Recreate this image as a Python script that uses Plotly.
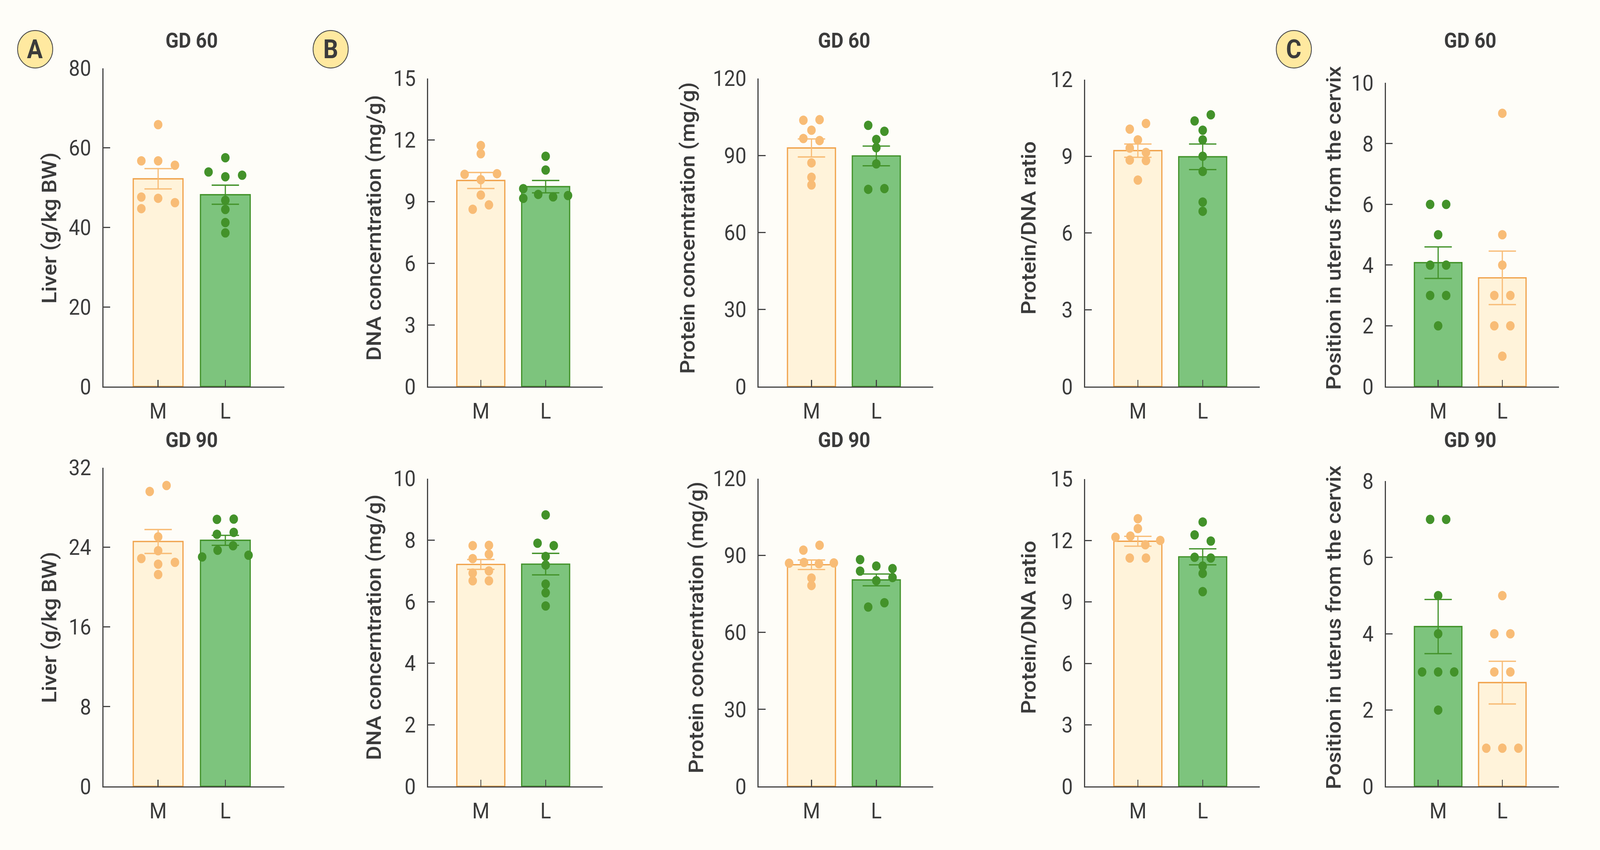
import plotly.graph_objects as go

# ------------------------------------------------------------------ data
GROUPS = ["M", "L"]

# GD 60 row
LIVER60_M = [65.8, 56.7, 56.7, 55.6, 47.6, 47.3, 46.2, 44.7]
LIVER60_L = [57.5, 53.9, 52.7, 53.1, 46.8, 44.5, 41.2, 38.6]
LIVER60_MEAN = [52.2, 48.2]
LIVER60_SEM = [2.55, 2.4]

DNA60_M = [11.73, 11.33, 10.33, 10.07, 10.36, 9.32, 8.63, 8.84]
DNA60_L = [11.21, 10.54, 9.63, 9.35, 9.23, 9.30, 9.16]
DNA60_MEAN = [10.03, 9.73]
DNA60_SEM = [0.39, 0.30]

PROT60_M = [103.7, 103.9, 99.8, 96.6, 95.8, 87.1, 81.5, 78.5]
PROT60_L = [101.7, 99.4, 96.2, 93.0, 86.7, 76.8, 77.1]
PROT60_MEAN = [92.9, 89.8]
PROT60_SEM = [3.5, 3.85]

RATIO60_M = [10.06, 10.28, 9.64, 9.32, 9.15, 8.85, 8.83, 8.07]
RATIO60_L = [10.38, 10.62, 10.02, 9.64, 9.0, 8.41, 7.21, 6.85]
RATIO60_MEAN = [9.22, 8.98]
RATIO60_SEM = [0.26, 0.5]

POS60_M = [6, 6, 5, 4, 4, 3, 3, 2]
POS60_L = [9, 5, 4, 3, 3, 2, 2, 1]
POS60_MEAN = [4.08, 3.58]
POS60_SEM = [0.52, 0.88]

# GD 90 row
LIVER90_M = [29.6, 30.2, 25.05, 23.65, 22.87, 22.3, 22.49, 21.26]
LIVER90_L = [26.8, 26.83, 25.3, 25.5, 23.03, 23.7, 24.15, 23.2]
LIVER90_MEAN = [24.58, 24.7]
LIVER90_SEM = [1.2, 0.5]

DNA90_M = [7.82, 7.83, 7.40, 7.54, 6.93, 7.0, 6.68, 6.68]
DNA90_L = [8.82, 7.90, 7.82, 7.47, 7.19, 6.57, 6.29, 5.86]
DNA90_MEAN = [7.21, 7.22]
DNA90_SEM = [0.16, 0.35]

PROT90_M = [92.1, 94.0, 87.0, 87.3, 86.8, 87.1, 81.2, 78.3]
PROT90_L = [88.4, 85.9, 84.9, 83.9, 80.2, 81.4, 69.9, 71.6]
PROT90_MEAN = [86.4, 80.5]
PROT90_SEM = [1.85, 2.3]

RATIO90_M = [13.06, 12.58, 12.16, 12.21, 11.79, 12.0, 11.14, 11.14]
RATIO90_L = [12.9, 12.27, 11.97, 11.18, 11.14, 10.75, 10.39, 9.5]
RATIO90_MEAN = [11.96, 11.2]
RATIO90_SEM = [0.24, 0.39]

POS90_M = [7, 7, 5, 4, 3, 3, 3, 2]
POS90_L = [5, 4, 4, 3, 3, 1, 1, 1]
POS90_MEAN = [4.19, 2.72]
POS90_SEM = [0.71, 0.56]

Y_TITLES = ["Liver (g/kg BW)", "DNA concerntration (mg/g)",
            "Protein concerntration (mg/g)", "Protein/DNA ratio",
            "Position in uterus from the cervix"]
ROW_TITLES = ["GD 60", "GD 90"]
PANEL_LETTERS = ["A", "B", "C"]

Y_MAX = [[80, 15, 120, 12, 10], [32, 10, 120, 15, 8]]
Y_DTICK = [[20, 3, 30, 3, 2], [8, 2, 30, 3, 2]]

# ------------------------------------------------------------------ style / layout
W, H = 4505, 2177
BG = "#FEFDF8"
AXIS = "#444444"
TEXT = "#3B3B3B"
FONT = "Roboto, 'Noto Sans', sans-serif"

ORANGE = dict(fill="#FFF3DA", line="#F0A24B", dot="#F8BC76")
GREEN = dict(fill="#7DC47D", line="#42922A", dot="#43922A")

COL_LEFT = [291, 1205, 2136, 3055, 3902]
COL_RIGHT = [801, 1697, 2628, 3547, 4389]
ROW_BOTTOM = [988, 2044]
ROW_TOP = [[147, 174, 174, 177, 186], [1202, 1231, 1231, 1232, 1238]]
YTITLE_X = [[139, 1053, 1936, 2897, 3755], [139, 1053, 1960, 2897, 3755]]
YTITLE_Y = [569, 1624]
ROWTITLE_Y = [74, 1129]
LETTER_POS = [(99, 97), (931, 97), (3643, 97)]
LETTER_R = 49.5
X_RANGE = [-0.815, 1.88]

DATA = [
    [(LIVER60_M, LIVER60_L, LIVER60_MEAN, LIVER60_SEM),
     (DNA60_M, DNA60_L, DNA60_MEAN, DNA60_SEM),
     (PROT60_M, PROT60_L, PROT60_MEAN, PROT60_SEM),
     (RATIO60_M, RATIO60_L, RATIO60_MEAN, RATIO60_SEM),
     (POS60_M, POS60_L, POS60_MEAN, POS60_SEM)],
    [(LIVER90_M, LIVER90_L, LIVER90_MEAN, LIVER90_SEM),
     (DNA90_M, DNA90_L, DNA90_MEAN, DNA90_SEM),
     (PROT90_M, PROT90_L, PROT90_MEAN, PROT90_SEM),
     (RATIO90_M, RATIO90_L, RATIO90_MEAN, RATIO90_SEM),
     (POS90_M, POS90_L, POS90_MEAN, POS90_SEM)],
]


def swarm_offsets(vals, ppu, tol=18.3, min_sep=22.0):
    """Group points whose values are close (in screen px) and spread them."""
    n = len(vals)
    order = sorted(range(n), key=lambda i: -vals[i])
    groups = [[order[0]]]
    for a, b in zip(order, order[1:]):
        if (vals[a] - vals[b]) * ppu < tol:
            groups[-1].append(b)
        else:
            groups.append([b])
    offs = [0.0] * n
    for g in groups:
        g = sorted(g)
        k = len(g)
        if k == 1:
            pos = [0.0]
        elif k == 2:
            pos = [-0.125, 0.125]
        elif k == 3:
            pos = [-0.25, 0.0, 0.25]
        else:
            pos = [(-0.25, 0.0, 0.25)[j % 3] for j in range(k)]
            ok = True
            for c in range(3):
                col = sorted(vals[g[j]] for j in range(k) if j % 3 == c)
                if any((b - a) * ppu < min_sep for a, b in zip(col, col[1:])):
                    ok = False
            if not ok:
                pos = [(-0.345, -0.115, 0.115, 0.345)[j % 4] for j in range(k)]
        for idx, o in zip(g, pos):
            offs[idx] = o
    return offs


fig = go.Figure()
layout = dict(
    width=W, height=H, margin=dict(l=0, r=0, t=0, b=0),
    paper_bgcolor=BG, plot_bgcolor=BG, showlegend=False,
    font=dict(family=FONT, color=TEXT),
)
annotations = []
shapes = []

for r in range(2):
    for c in range(5):
        p = r * 5 + c
        sfx = "" if p == 0 else str(p + 1)
        xa, ya = "x" + sfx, "y" + sfx
        m_vals, l_vals, means, sems = DATA[r][c]
        schemes = [GREEN, ORANGE] if c == 4 else [ORANGE, GREEN]

        top_px, bot_px = ROW_TOP[r][c], ROW_BOTTOM[r]
        ymax = Y_MAX[r][c]
        ppu = (bot_px - top_px) / ymax

        layout["xaxis" + sfx] = dict(
            domain=[COL_LEFT[c] / W, COL_RIGHT[c] / W], range=X_RANGE,
            anchor=ya, tickmode="array", tickvals=[0, 1], ticktext=GROUPS,
            ticks="inside", ticklen=17, tickwidth=3.2, tickcolor=AXIS,
            showline=True, linewidth=3.4, linecolor=AXIS,
            showgrid=False, zeroline=False, ticklabelstandoff=12,
            tickfont=dict(size=56, color=TEXT, family=FONT),
        )
        layout["yaxis" + sfx] = dict(
            domain=[1 - bot_px / H, 1 - top_px / H], range=[0, ymax],
            anchor=xa, dtick=Y_DTICK[r][c], tick0=0,
            ticks="inside", ticklen=19, tickwidth=3.2, tickcolor=AXIS,
            showline=True, linewidth=3.4, linecolor=AXIS,
            showgrid=False, zeroline=False, ticklabelstandoff=20,
            tickfont=dict(size=56, color=TEXT, family=FONT),
        )

        # bars
        fig.add_trace(go.Bar(
            x=[0, 1], y=means, width=0.74, xaxis=xa, yaxis=ya,
            marker=dict(color=[s["fill"] for s in schemes],
                        line=dict(color=[s["line"] for s in schemes], width=3.4)),
            hoverinfo="skip",
        ))
        # individual points
        for gi, vals in enumerate([m_vals, l_vals]):
            offs = swarm_offsets(vals, ppu)
            fig.add_trace(go.Scatter(
                x=[gi + o for o in offs], y=vals, mode="markers",
                xaxis=xa, yaxis=ya, cliponaxis=False,
                marker=dict(size=24, color=schemes[gi]["dot"], line=dict(width=0)),
                hoverinfo="skip",
            ))
        # error bars (mean ± SEM) drawn above the points
        for gi in range(2):
            fig.add_trace(go.Scatter(
                x=[gi], y=[means[gi]], mode="markers", xaxis=xa, yaxis=ya,
                marker=dict(size=1, color="rgba(0,0,0,0)"),
                error_y=dict(type="data", array=[sems[gi]], visible=True,
                             color=schemes[gi]["dot"], thickness=3.3, width=38.5),
                hoverinfo="skip",
            ))

        # y-axis title
        annotations.append(dict(
            text=Y_TITLES[c], xref="paper", yref="paper",
            x=YTITLE_X[r][c] / W, y=1 - YTITLE_Y[r] / H,
            xanchor="center", yanchor="middle", textangle=-90, showarrow=False,
            font=dict(size=56, color=TEXT, family=FONT, weight=500),
        ))
        # row title over A, protein and C panels
        if c in (0, 2, 4):
            annotations.append(dict(
                text=ROW_TITLES[r], xref=xa, yref="paper",
                x=0.5, y=1 - ROWTITLE_Y[r] / H,
                xanchor="center", yanchor="middle", showarrow=False,
                font=dict(size=54, color=TEXT, family=FONT, weight="bold"),
            ))

# panel letters
for letter, (cx, cy) in zip(PANEL_LETTERS, LETTER_POS):
    shapes.append(dict(
        type="circle", xref="paper", yref="paper",
        x0=(cx - LETTER_R) / W, x1=(cx + LETTER_R) / W,
        y0=1 - (cy + LETTER_R) / H, y1=1 - (cy - LETTER_R) / H,
        fillcolor="#FFE9A0", line=dict(color="#4A4A4A", width=2.2), layer="above",
    ))
    annotations.append(dict(
        text=letter, xref="paper", yref="paper", x=cx / W, y=1 - cy / H,
        xanchor="center", yanchor="middle", showarrow=False,
        font=dict(size=66, color=TEXT, family=FONT, weight="bold"),
    ))

layout["annotations"] = annotations
layout["shapes"] = shapes
fig.update_layout(**layout)

# fit the fixed-size figure exactly into the browser viewport
POST = (
    "document.documentElement.style.margin='0';"
    "document.body.style.margin='0';"
    "document.documentElement.style.overflow='hidden';"
    "document.body.style.overflow='hidden';"
    "document.documentElement.style.background='" + BG + "';"
    "document.body.style.background='" + BG + "';"
    "var gd=document.getElementById('{plot_id}');"
    "var sx=window.innerWidth/" + str(W) + ",sy=window.innerHeight/" + str(H) + ";"
    "gd.style.transformOrigin='0 0';"
    "gd.style.transform='scale('+sx+','+sy+')';"
)

fig.write_html("out.html", post_script=POST, config={"displayModeBar": False})
